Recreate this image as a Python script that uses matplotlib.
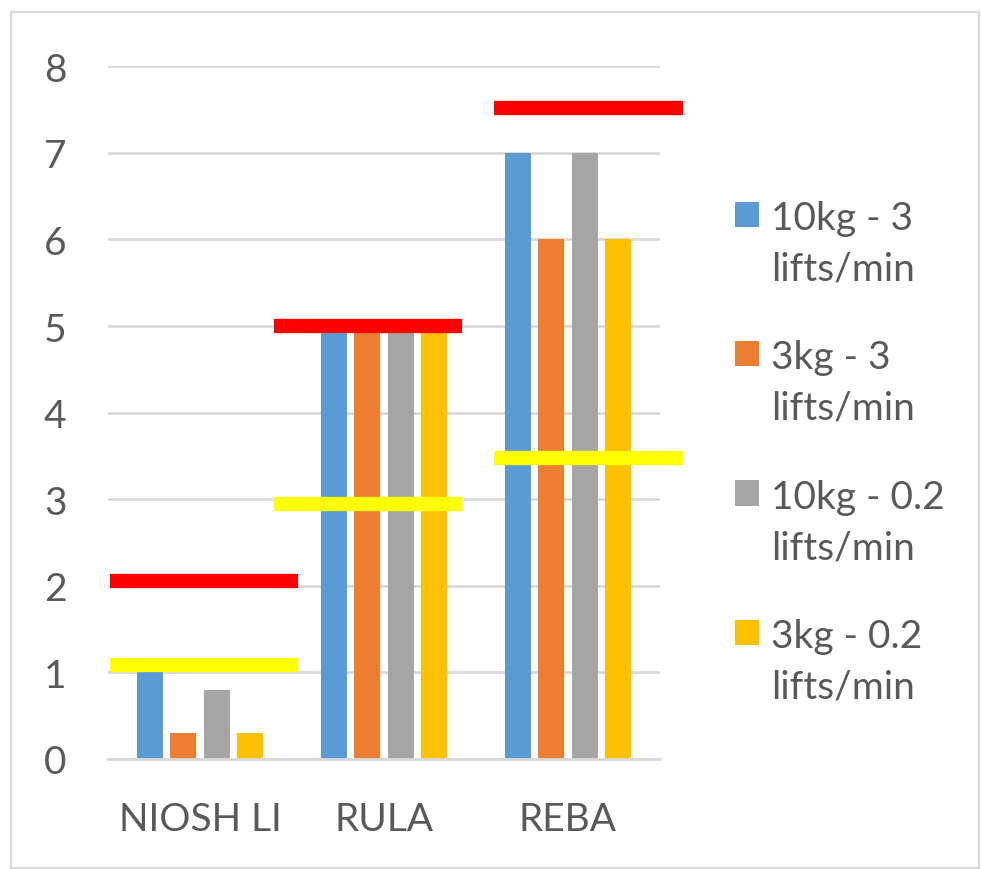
import matplotlib
matplotlib.use("Agg")
import matplotlib.pyplot as plt
import numpy as np
from matplotlib.patches import Rectangle
from matplotlib.container import BarContainer
from matplotlib.legend_handler import HandlerPatch, update_from_first_child

# data
categories = ["NIOSH LI", "RULA", "REBA"]
series_names = ["10kg - 3\nlifts/min", "3kg - 3\nlifts/min",
                "10kg - 0.2\nlifts/min", "3kg - 0.2\nlifts/min"]
kg10_3 = [1.0, 5, 7]
kg3_3 = [0.3, 5, 6]
kg10_02 = [0.8, 5, 7]
kg3_02 = [0.3, 5, 6]
red_limit = [2.05, 5.0, 7.52]
yellow_limit = [1.08, 2.95, 3.48]

colors = ["#5B9BD5", "#ED7D31", "#A5A5A5", "#FFC000"]
text_color = "#595959"
grid_color = "#D9D9D9"

plt.rcParams["font.family"] = ["Lato", "DejaVu Sans"]

W, H = 981, 870
fig = plt.figure(figsize=(W / 100, H / 100), dpi=100)
ax = fig.add_axes([108 / W, (H - 760) / H, 552 / W, (760 - 67.3) / H])

x = np.arange(len(categories))
pitch = 0.182
width = 0.141
for i, (vals, c) in enumerate(zip([kg10_3, kg3_3, kg10_02, kg3_02], colors)):
    ax.bar(x + (i - 1.5) * pitch, vals, width, color=c, label=series_names[i],
           zorder=2)

# threshold bars (hand placed in the original, shifted per group)
line_x0 = [-0.49, 0.40, 1.60]
line_w = 1.025
for xi, r, yv in zip(line_x0, red_limit, yellow_limit):
    ax.plot([xi, xi + line_w], [r, r], color="#FF0000", lw=10.3,
            solid_capstyle="butt", zorder=3, clip_on=False)
    ax.plot([xi, xi + line_w], [yv, yv], color="#FFFF00", lw=10.3,
            solid_capstyle="butt", zorder=3, clip_on=False)

ax.set_xlim(-0.5, 2.5)
ax.set_ylim(0, 8)
ax.set_yticks(range(0, 9))
ax.set_xticks(x)
ax.set_xticklabels(categories)
ax.yaxis.grid(True, color=grid_color, lw=2.0, zorder=0)
ax.set_axisbelow(True)
for s in ["top", "right", "left"]:
    ax.spines[s].set_visible(False)
ax.spines["bottom"].set_color(grid_color)
ax.spines["bottom"].set_linewidth(2.0)
ax.tick_params(axis="both", length=0, labelsize=28, labelcolor=text_color)
ax.tick_params(axis="y", pad=30)
ax.tick_params(axis="x", pad=30)


def top_line_square(legend, orig_handle, xdescent, ydescent, width, height,
                    fontsize):
    # Excel puts the key next to the first line of a wrapped label
    return Rectangle((-xdescent, -ydescent + 21.5), width, height)


key_handler = HandlerPatch(patch_func=top_line_square,
                           update_func=update_from_first_child)
leg = ax.legend(loc="upper left", bbox_to_anchor=(735 / W, 1 - 201 / H),
                bbox_transform=fig.transFigure, frameon=False, fontsize=28,
                handlelength=0.62, handleheight=0.62, handletextpad=0.3,
                labelspacing=1.36, borderpad=0, borderaxespad=0,
                handler_map={BarContainer: key_handler})
for t in leg.get_texts():
    t.set_color(text_color)
    t.set_linespacing(1.5)

fig.patches.append(Rectangle((11 / W, 1 / H), 968 / W, 856 / H,
                             transform=fig.transFigure, fill=False,
                             edgecolor=grid_color, lw=1.6))

fig.savefig("out.png", dpi=100)
